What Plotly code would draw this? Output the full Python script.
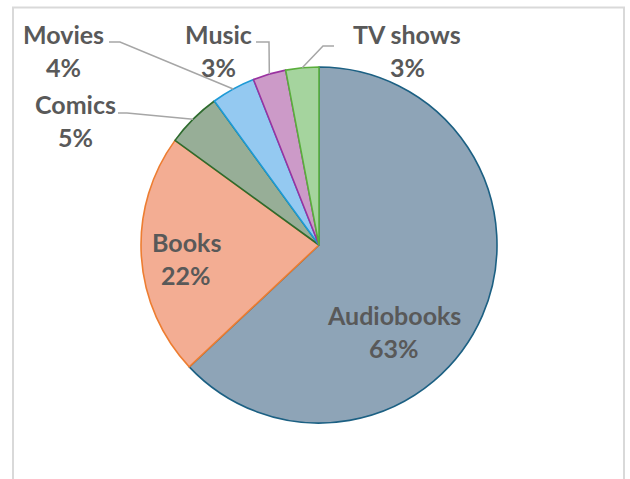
import math
import plotly.graph_objects as go

categories = ["Audiobooks", "Books", "Comics", "Movies", "Music", "TV shows"]
shares = [63, 22, 5, 4, 3, 3]
pct_labels = ["63%", "22%", "5%", "4%", "3%", "3%"]

fill_colors = ["#8ea4b7", "#f3ad93", "#97ae97", "#94c9f1", "#cc9ac8", "#a5d49e"]
line_colors = ["#1c6083", "#ed7d31", "#2e6b2e", "#1e9ad6", "#9a32a0", "#5aae3c"]

W, H = 630, 479
CX, CY, R = 319, 245, 178

def px(x):
    return x / W

def py(y):
    return 1 - y / H

fig = go.Figure(go.Pie(
    labels=categories,
    values=shares,
    sort=False,
    direction="clockwise",
    rotation=0,
    textinfo="none",
    hoverinfo="label+percent",
    marker=dict(colors=fill_colors, line=dict(color=line_colors, width=1.6)),
    domain=dict(x=[px(CX - R), px(CX + R)], y=[py(CY + R), py(CY - R)]),
    showlegend=False,
))

# label placement (pixel positions of the name line), percentage line 33px lower
label_pos = {
    "Audiobooks": (394, 315),
    "Books": (186, 242),
    "Comics": (75, 104),
    "Movies": (63, 34),
    "Music": (218, 34),
    "TV shows": (407, 34),
}
# leader line starting points (label side), then elbow point
leader = {
    "Comics": [(118, 113), (127, 113)],
    "Movies": [(109, 42), (120, 42)],
    "Music": [(256, 42), (269, 42)],
    "TV shows": [(334, 46), (323, 46)],
}

annotations = []
shapes = []
total = sum(shares)
cum = 0
for cat, val, pct in zip(categories, shares, pct_labels):
    mid = (cum + val / 2) / total * 2 * math.pi
    cum += val
    lx, ly = label_pos[cat]
    for txt, yy in ((cat, ly), (pct, ly + 33)):
        annotations.append(dict(
            x=px(lx), y=py(yy), xref="paper", yref="paper",
            text=txt, showarrow=False, xanchor="center", yanchor="middle",
            font=dict(family="Lato", size=25, color="#595959", weight="bold"),
        ))
    if cat in leader:
        ex = CX + R * math.sin(mid)
        ey = CY - R * math.cos(mid)
        pts = leader[cat] + [(ex, ey)]
        path = "M " + " L ".join(f"{px(a):.5f},{py(b):.5f}" for a, b in pts)
        shapes.append(dict(type="path", path=path, xref="paper", yref="paper",
                           line=dict(color="#a6a6a6", width=1.5)))

# chart-area border
shapes.append(dict(type="rect", xref="paper", yref="paper",
                   x0=px(13), x1=px(624), y0=py(500), y1=py(7.5),
                   line=dict(color="#d9d9d9", width=2), fillcolor="rgba(0,0,0,0)",
                   layer="below"))

fig.update_layout(
    width=W, height=H,
    margin=dict(l=0, r=0, t=0, b=0),
    paper_bgcolor="white",
    plot_bgcolor="white",
    annotations=annotations,
    shapes=shapes,
)

fig.write_html("out.html",
               config={"displayModeBar": False},
               post_script="document.body.style.margin='0';document.body.style.overflow='hidden';")
